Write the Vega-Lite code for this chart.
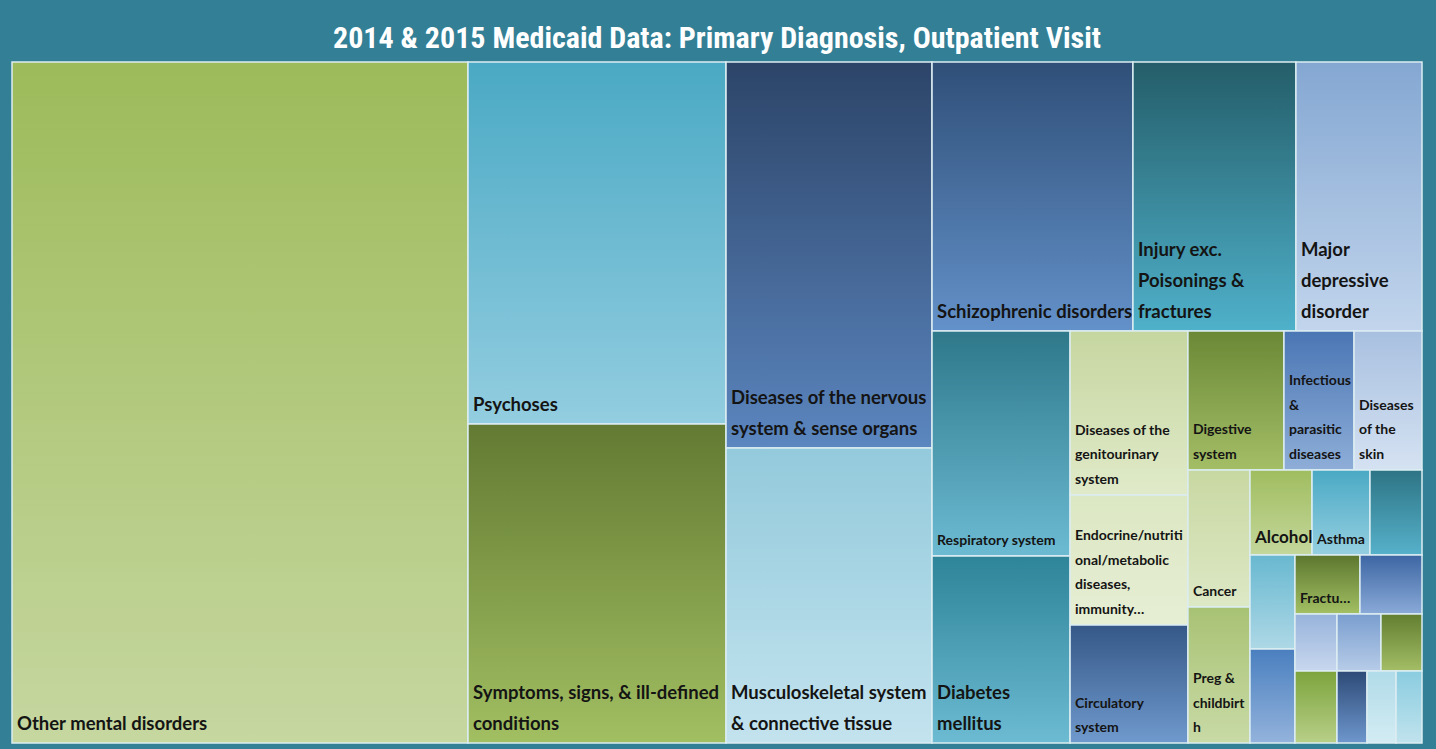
{
  "$schema": "https://vega.github.io/schema/vega-lite/v6.json",
  "autosize": "none",
  "width": 1410,
  "height": 681,
  "padding": {"left": 12, "top": 62, "right": 14, "bottom": 6},
  "background": "#337f96",
  "config": {
    "view": {"stroke": null},
    "text": {"align": "left", "baseline": "bottom", "dx": 5, "font": "Lato", "fontWeight": "bold", "color": "#141414"}
  },
  "title": {
    "text": "2014 & 2015 Medicaid Data: Primary Diagnosis, Outpatient Visit",
    "anchor": "middle",
    "font": "Roboto Condensed, Noto Sans Condensed, Open Sans Condensed, DejaVu Sans Condensed",
    "fontSize": 30,
    "fontWeight": "bold",
    "color": "#ffffff",
    "offset": 7
  },
  "data": {
    "values": [
      {"id": "a", "label": ["Other mental disorders"], "x0": 0, "x1": 32.34, "y0": 0, "y1": 100},
      {"id": "b", "label": ["Psychoses"], "x0": 32.34, "x1": 50.64, "y0": 0, "y1": 53.16},
      {"id": "c", "label": ["Symptoms, signs, & ill-defined", "conditions"], "x0": 32.34, "x1": 50.64, "y0": 53.16, "y1": 100},
      {"id": "d", "label": ["Diseases of the nervous", "system & sense organs"], "x0": 50.64, "x1": 65.25, "y0": 0, "y1": 56.68},
      {"id": "e", "label": ["Musculoskeletal system", "& connective tissue"], "x0": 50.64, "x1": 65.25, "y0": 56.68, "y1": 100},
      {"id": "f", "label": ["Schizophrenic disorders"], "x0": 65.25, "x1": 79.5, "y0": 0, "y1": 39.5},
      {"id": "g", "label": ["Injury exc.", "Poisonings &", "fractures"], "x0": 79.5, "x1": 91.06, "y0": 0, "y1": 39.5},
      {"id": "h", "label": ["Major", "depressive", "disorder"], "x0": 91.06, "x1": 100, "y0": 0, "y1": 39.5},
      {"id": "i", "label": ["Respiratory system"], "x0": 65.25, "x1": 75.04, "y0": 39.5, "y1": 72.54},
      {"id": "j", "label": ["Diabetes", "mellitus"], "x0": 65.25, "x1": 75.04, "y0": 72.54, "y1": 100},
      {"id": "k", "label": ["Diseases of the", "genitourinary", "system"], "x0": 75.04, "x1": 83.4, "y0": 39.5, "y1": 63.58},
      {"id": "l", "label": ["Endocrine/nutriti", "onal/metabolic", "diseases,", "immunity…"], "x0": 75.04, "x1": 83.4, "y0": 63.58, "y1": 82.67},
      {"id": "m", "label": ["Circulatory", "system"], "x0": 75.04, "x1": 83.4, "y0": 82.67, "y1": 100},
      {"id": "n", "label": ["Digestive", "system"], "x0": 83.4, "x1": 90.21, "y0": 39.5, "y1": 59.91},
      {"id": "o", "label": ["Infectious", "&", "parasitic", "diseases"], "x0": 90.21, "x1": 95.18, "y0": 39.5, "y1": 59.91},
      {"id": "p", "label": ["Diseases", "of the", "skin"], "x0": 95.18, "x1": 100, "y0": 39.5, "y1": 59.91},
      {"id": "q", "label": ["Cancer"], "x0": 83.4, "x1": 87.8, "y0": 59.91, "y1": 80.03},
      {"id": "r", "label": ["Preg &", "childbirt", "h"], "x0": 83.4, "x1": 87.8, "y0": 80.03, "y1": 100},
      {"id": "s", "label": ["Alcohol"], "x0": 87.8, "x1": 92.2, "y0": 59.91, "y1": 72.39},
      {"id": "t", "label": ["Asthma"], "x0": 92.2, "x1": 96.31, "y0": 59.91, "y1": 72.39},
      {"id": "u", "label": [""], "x0": 96.31, "x1": 100, "y0": 59.91, "y1": 72.39},
      {"id": "v", "label": [""], "x0": 87.8, "x1": 90.99, "y0": 72.39, "y1": 86.2},
      {"id": "w", "label": [""], "x0": 87.8, "x1": 90.99, "y0": 86.2, "y1": 100},
      {"id": "x", "label": ["Fractu…"], "x0": 90.99, "x1": 95.6, "y0": 72.39, "y1": 81.06},
      {"id": "y", "label": [""], "x0": 95.6, "x1": 100, "y0": 72.39, "y1": 81.06},
      {"id": "z1", "label": [""], "x0": 90.99, "x1": 93.97, "y0": 81.06, "y1": 89.43},
      {"id": "z2", "label": [""], "x0": 93.97, "x1": 97.09, "y0": 81.06, "y1": 89.43},
      {"id": "z3", "label": [""], "x0": 97.09, "x1": 100, "y0": 81.06, "y1": 89.43},
      {"id": "z4", "label": [""], "x0": 90.99, "x1": 93.97, "y0": 89.43, "y1": 100},
      {"id": "z5", "label": [""], "x0": 93.97, "x1": 96.1, "y0": 89.43, "y1": 100},
      {"id": "z6", "label": [""], "x0": 96.1, "x1": 98.16, "y0": 89.43, "y1": 100},
      {"id": "z7", "label": [""], "x0": 98.16, "x1": 100, "y0": 89.43, "y1": 100}
    ]
  },
  "encoding": {
    "x": {"field": "x0", "type": "quantitative", "scale": {"domain": [0, 100], "nice": false, "zero": false}, "axis": null},
    "y": {"field": "y0", "type": "quantitative", "scale": {"domain": [0, 100], "nice": false, "zero": false, "reverse": true}, "axis": null}
  },
  "layer": [
    {
      "mark": {"type": "rect", "stroke": "#dcedf2", "strokeWidth": 1.5},
      "encoding": {
        "x2": {"field": "x1"},
        "y2": {"field": "y1"},
        "color": {
          "condition": [
            {"test": "datum.id==='a'", "value": {"gradient": "linear", "x1": 0, "y1": 0, "x2": 0, "y2": 1, "stops": [{"offset": 0, "color": "#9dbb5a"}, {"offset": 1, "color": "#c6d7a0"}]}},
            {"test": "datum.id==='b'", "value": {"gradient": "linear", "x1": 0, "y1": 0, "x2": 0, "y2": 1, "stops": [{"offset": 0, "color": "#4aa9c4"}, {"offset": 1, "color": "#93cde0"}]}},
            {"test": "datum.id==='c'", "value": {"gradient": "linear", "x1": 0, "y1": 0, "x2": 0, "y2": 1, "stops": [{"offset": 0, "color": "#627a32"}, {"offset": 1, "color": "#a2bf62"}]}},
            {"test": "datum.id==='d'", "value": {"gradient": "linear", "x1": 0, "y1": 0, "x2": 0, "y2": 1, "stops": [{"offset": 0, "color": "#2c4468"}, {"offset": 1, "color": "#5b86bf"}]}},
            {"test": "datum.id==='e'", "value": {"gradient": "linear", "x1": 0, "y1": 0, "x2": 0, "y2": 1, "stops": [{"offset": 0, "color": "#93cadc"}, {"offset": 1, "color": "#c3e3ee"}]}},
            {"test": "datum.id==='f'", "value": {"gradient": "linear", "x1": 0, "y1": 0, "x2": 0, "y2": 1, "stops": [{"offset": 0, "color": "#2f4f78"}, {"offset": 1, "color": "#6391c9"}]}},
            {"test": "datum.id==='g'", "value": {"gradient": "linear", "x1": 0, "y1": 0, "x2": 0, "y2": 1, "stops": [{"offset": 0, "color": "#245d69"}, {"offset": 1, "color": "#4fb1ca"}]}},
            {"test": "datum.id==='h'", "value": {"gradient": "linear", "x1": 0, "y1": 0, "x2": 0, "y2": 1, "stops": [{"offset": 0, "color": "#84a7d2"}, {"offset": 1, "color": "#c2d5ec"}]}},
            {"test": "datum.id==='i'", "value": {"gradient": "linear", "x1": 0, "y1": 0, "x2": 0, "y2": 1, "stops": [{"offset": 0, "color": "#2e788a"}, {"offset": 1, "color": "#6cbbd3"}]}},
            {"test": "datum.id==='j'", "value": {"gradient": "linear", "x1": 0, "y1": 0, "x2": 0, "y2": 1, "stops": [{"offset": 0, "color": "#2e8498"}, {"offset": 1, "color": "#6cbbd3"}]}},
            {"test": "datum.id==='k'", "value": {"gradient": "linear", "x1": 0, "y1": 0, "x2": 0, "y2": 1, "stops": [{"offset": 0, "color": "#c6d6a0"}, {"offset": 1, "color": "#e0eac9"}]}},
            {"test": "datum.id==='l'", "value": {"gradient": "linear", "x1": 0, "y1": 0, "x2": 0, "y2": 1, "stops": [{"offset": 0, "color": "#dce7c3"}, {"offset": 1, "color": "#e6eed4"}]}},
            {"test": "datum.id==='m'", "value": {"gradient": "linear", "x1": 0, "y1": 0, "x2": 0, "y2": 1, "stops": [{"offset": 0, "color": "#355887"}, {"offset": 1, "color": "#7099cd"}]}},
            {"test": "datum.id==='n'", "value": {"gradient": "linear", "x1": 0, "y1": 0, "x2": 0, "y2": 1, "stops": [{"offset": 0, "color": "#6a8836"}, {"offset": 1, "color": "#a4be66"}]}},
            {"test": "datum.id==='o'", "value": {"gradient": "linear", "x1": 0, "y1": 0, "x2": 0, "y2": 1, "stops": [{"offset": 0, "color": "#4a76b4"}, {"offset": 1, "color": "#8eaed8"}]}},
            {"test": "datum.id==='p'", "value": {"gradient": "linear", "x1": 0, "y1": 0, "x2": 0, "y2": 1, "stops": [{"offset": 0, "color": "#a8c0e0"}, {"offset": 1, "color": "#d5e2f2"}]}},
            {"test": "datum.id==='q'", "value": {"gradient": "linear", "x1": 0, "y1": 0, "x2": 0, "y2": 1, "stops": [{"offset": 0, "color": "#c8d8a2"}, {"offset": 1, "color": "#dde8c5"}]}},
            {"test": "datum.id==='r'", "value": {"gradient": "linear", "x1": 0, "y1": 0, "x2": 0, "y2": 1, "stops": [{"offset": 0, "color": "#a8c274"}, {"offset": 1, "color": "#c9daa6"}]}},
            {"test": "datum.id==='s'", "value": {"gradient": "linear", "x1": 0, "y1": 0, "x2": 0, "y2": 1, "stops": [{"offset": 0, "color": "#a0bd5f"}, {"offset": 1, "color": "#c4d79c"}]}},
            {"test": "datum.id==='t'", "value": {"gradient": "linear", "x1": 0, "y1": 0, "x2": 0, "y2": 1, "stops": [{"offset": 0, "color": "#4aa9c4"}, {"offset": 1, "color": "#95cfe1"}]}},
            {"test": "datum.id==='u'", "value": {"gradient": "linear", "x1": 0, "y1": 0, "x2": 0, "y2": 1, "stops": [{"offset": 0, "color": "#2d7485"}, {"offset": 1, "color": "#56b1ca"}]}},
            {"test": "datum.id==='v'", "value": {"gradient": "linear", "x1": 0, "y1": 0, "x2": 0, "y2": 1, "stops": [{"offset": 0, "color": "#68b8d0"}, {"offset": 1, "color": "#aed8e6"}]}},
            {"test": "datum.id==='w'", "value": {"gradient": "linear", "x1": 0, "y1": 0, "x2": 0, "y2": 1, "stops": [{"offset": 0, "color": "#4a7fbf"}, {"offset": 1, "color": "#93b3dc"}]}},
            {"test": "datum.id==='x'", "value": {"gradient": "linear", "x1": 0, "y1": 0, "x2": 0, "y2": 1, "stops": [{"offset": 0, "color": "#5c772e"}, {"offset": 1, "color": "#a3c064"}]}},
            {"test": "datum.id==='y'", "value": {"gradient": "linear", "x1": 0, "y1": 0, "x2": 0, "y2": 1, "stops": [{"offset": 0, "color": "#3d66a3"}, {"offset": 1, "color": "#8aaad8"}]}},
            {"test": "datum.id==='z1'", "value": {"gradient": "linear", "x1": 0, "y1": 0, "x2": 0, "y2": 1, "stops": [{"offset": 0, "color": "#97b3db"}, {"offset": 1, "color": "#c8d7ee"}]}},
            {"test": "datum.id==='z2'", "value": {"gradient": "linear", "x1": 0, "y1": 0, "x2": 0, "y2": 1, "stops": [{"offset": 0, "color": "#7a9ecf"}, {"offset": 1, "color": "#b7cce8"}]}},
            {"test": "datum.id==='z3'", "value": {"gradient": "linear", "x1": 0, "y1": 0, "x2": 0, "y2": 1, "stops": [{"offset": 0, "color": "#627e30"}, {"offset": 1, "color": "#a4be66"}]}},
            {"test": "datum.id==='z4'", "value": {"gradient": "linear", "x1": 0, "y1": 0, "x2": 0, "y2": 1, "stops": [{"offset": 0, "color": "#7ca43c"}, {"offset": 1, "color": "#b8cf88"}]}},
            {"test": "datum.id==='z5'", "value": {"gradient": "linear", "x1": 0, "y1": 0, "x2": 0, "y2": 1, "stops": [{"offset": 0, "color": "#2d4a77"}, {"offset": 1, "color": "#6e97cd"}]}},
            {"test": "datum.id==='z6'", "value": {"gradient": "linear", "x1": 0, "y1": 0, "x2": 0, "y2": 1, "stops": [{"offset": 0, "color": "#b0dbe8"}, {"offset": 1, "color": "#d4ecf3"}]}},
            {"test": "datum.id==='z7'", "value": {"gradient": "linear", "x1": 0, "y1": 0, "x2": 0, "y2": 1, "stops": [{"offset": 0, "color": "#8acce0"}, {"offset": 1, "color": "#c0e3ed"}]}}
          ],
          "value": "#999999"
        }
      }
    },
    {
      "transform": [{"filter": {"field": "id", "oneOf": ["a", "b", "f"]}}],
      "mark": {"type": "text", "dy": -9, "fontSize": 18.5, "lineHeight": 31},
      "encoding": {"y": {"field": "y1", "type": "quantitative"}, "text": {"field": "label", "type": "nominal"}}
    },
    {
      "transform": [{"filter": {"field": "id", "oneOf": ["c", "d", "e", "j"]}}],
      "mark": {"type": "text", "dy": -40, "fontSize": 18.5, "lineHeight": 31},
      "encoding": {"y": {"field": "y1", "type": "quantitative"}, "text": {"field": "label", "type": "nominal"}}
    },
    {
      "transform": [{"filter": {"field": "id", "oneOf": ["g", "h"]}}],
      "mark": {"type": "text", "dy": -71, "fontSize": 18.5, "lineHeight": 31},
      "encoding": {"y": {"field": "y1", "type": "quantitative"}, "text": {"field": "label", "type": "nominal"}}
    },
    {
      "transform": [{"filter": {"field": "id", "oneOf": ["i", "q", "s", "t", "x"]}}],
      "mark": {"type": "text", "dy": -8, "fontSize": 14, "lineHeight": 24.5},
      "encoding": {
        "y": {"field": "y1", "type": "quantitative"},
        "text": {"field": "label", "type": "nominal"},
        "size": {"condition": {"test": "datum.id==='s'", "value": 17}, "value": 14}
      }
    },
    {
      "transform": [{"filter": {"field": "id", "oneOf": ["m", "n"]}}],
      "mark": {"type": "text", "dy": -32.5, "fontSize": 14, "lineHeight": 24.5},
      "encoding": {"y": {"field": "y1", "type": "quantitative"}, "text": {"field": "label", "type": "nominal"}}
    },
    {
      "transform": [{"filter": {"field": "id", "oneOf": ["k", "p", "r"]}}],
      "mark": {"type": "text", "dy": -57, "fontSize": 14, "lineHeight": 24.5},
      "encoding": {"y": {"field": "y1", "type": "quantitative"}, "text": {"field": "label", "type": "nominal"}}
    },
    {
      "transform": [{"filter": {"field": "id", "oneOf": ["l", "o"]}}],
      "mark": {"type": "text", "dy": -81.5, "fontSize": 14, "lineHeight": 24.5},
      "encoding": {"y": {"field": "y1", "type": "quantitative"}, "text": {"field": "label", "type": "nominal"}}
    }
  ]
}
